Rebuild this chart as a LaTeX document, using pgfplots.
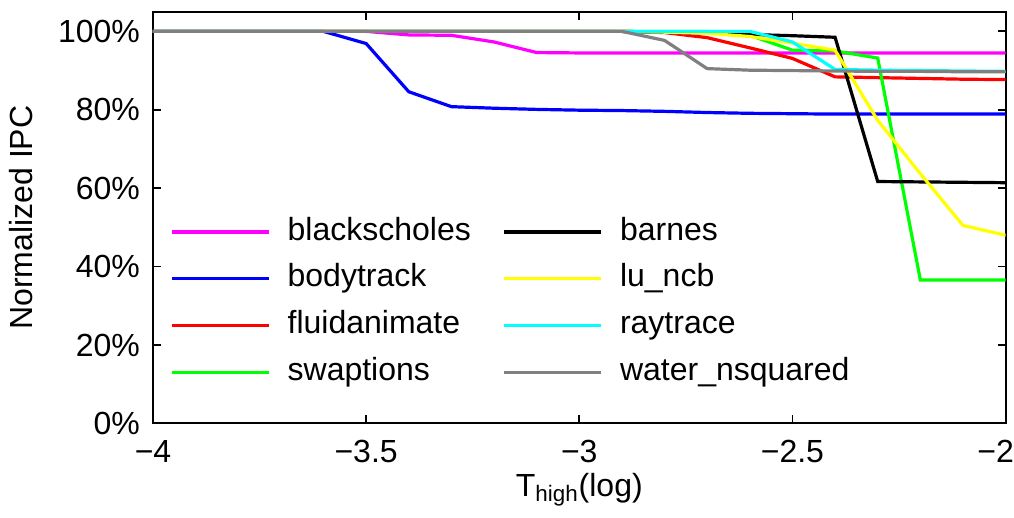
\documentclass[border=0pt]{standalone}
\usepackage{fontspec}
\setmainfont{Liberation Sans}
\usepackage{pgfplots}
\pgfplotsset{compat=1.18}
\usetikzlibrary{calc}
\definecolor{bsMagenta}{rgb}{1,0,1}
\definecolor{btBlue}{rgb}{0,0,1}
\definecolor{faRed}{rgb}{1,0,0}
\definecolor{swGreen}{rgb}{0,1,0}
\definecolor{luYellow}{rgb}{1,1,0}
\definecolor{rtCyan}{rgb}{0,1,1}
\definecolor{wnGray}{rgb}{0.5,0.5,0.5}
\begin{document}
\begin{tikzpicture}
  \begin{axis}[
    scale only axis,
    width=426.3pt, height=205.8pt,
    xmin=-4, xmax=-2,
    ymin=0, ymax=105,
    xtick={-4,-3.5,-3,-2.5,-2},
    xticklabels={−4,−3.5,−3,−2.5,\hspace*{-10pt}−2},
    ytick={0,20,40,60,80,100},
    yticklabels={0\%,20\%,40\%,60\%,80\%,100\%},
    tick align=inside,
    major tick length=4pt,
    axis line style={line width=0.9pt},
    tick style={line width=0.9pt, black},
    tick label style={font=\fontsize{16}{19}\selectfont},
    label style={font=\fontsize{16}{19}\selectfont},
    xticklabel shift=5pt,
    yticklabel shift=3pt,
    ylabel shift=6pt,
    xlabel shift=-2pt,
    xlabel={T\textsubscript{high}(log)},
    ylabel={Normalized IPC},
    every axis plot/.append style={line width=1.6pt, no markers},
    legend columns=4,
    transpose legend,
    legend cell align=left,
    legend image code/.code={\draw[#1] (0pt,0pt) -- (48.5pt,0pt);},
    legend style={
      draw=none, fill=none,
      at={(axis cs:-3.96,53.0)}, anchor=north west,
      inner sep=0pt,
      font=\fontsize{16}{19}\selectfont,
      nodes={text height=12pt, text depth=4pt, inner sep=0pt},
      row sep=7.4pt,
      column sep=8.5pt,
      /tikz/every even column/.append style={column sep=16pt},
    },
  ]
    \addplot[bsMagenta] coordinates {
      (-4,100) (-3.9,100) (-3.8,100) (-3.7,100) (-3.6,100) (-3.5,100)
      (-3.4,99.1) (-3.3,99.0) (-3.2,97.3) (-3.1,94.6) (-3.0,94.5)
      (-2.9,94.5) (-2.8,94.5) (-2.7,94.5) (-2.6,94.5) (-2.5,94.5)
      (-2.4,94.5) (-2.3,94.5) (-2.2,94.5) (-2.1,94.5) (-2.0,94.5)};
    \addlegendentry{blackscholes}
    \addplot[btBlue] coordinates {
      (-4,100) (-3.9,100) (-3.8,100) (-3.7,100) (-3.6,100) (-3.5,96.9)
      (-3.4,84.6) (-3.3,80.8) (-3.2,80.4) (-3.1,80.1) (-3.0,79.9)
      (-2.9,79.8) (-2.8,79.6) (-2.7,79.3) (-2.6,79.1) (-2.5,79.0)
      (-2.4,78.9) (-2.3,78.9) (-2.2,78.9) (-2.1,78.9) (-2.0,78.9)};
    \addlegendentry{bodytrack}
    \addplot[faRed] coordinates {
      (-4,100) (-3.9,100) (-3.8,100) (-3.7,100) (-3.6,100) (-3.5,100)
      (-3.4,100) (-3.3,100) (-3.2,100) (-3.1,100) (-3.0,100)
      (-2.9,100) (-2.8,99.7) (-2.7,98.4) (-2.6,95.8) (-2.5,93.1)
      (-2.4,88.4) (-2.3,88.2) (-2.2,88.0) (-2.1,87.8) (-2.0,87.7)};
    \addlegendentry{fluidanimate}
    \addplot[swGreen] coordinates {
      (-4,100) (-3.9,100) (-3.8,100) (-3.7,100) (-3.6,100) (-3.5,100)
      (-3.4,100) (-3.3,100) (-3.2,100) (-3.1,100) (-3.0,100)
      (-2.9,100) (-2.8,100) (-2.7,100) (-2.6,99.0) (-2.5,95.2)
      (-2.4,95.0) (-2.3,93.2) (-2.2,36.6) (-2.1,36.6) (-2.0,36.6)};
    \addlegendentry{swaptions}
    \addplot[black] coordinates {
      (-4,100) (-3.9,100) (-3.8,100) (-3.7,100) (-3.6,100) (-3.5,100)
      (-3.4,100) (-3.3,100) (-3.2,100) (-3.1,100) (-3.0,100)
      (-2.9,100) (-2.8,99.8) (-2.7,99.6) (-2.6,99.2) (-2.5,98.9)
      (-2.4,98.5) (-2.3,61.7) (-2.2,61.6) (-2.1,61.5) (-2.0,61.4)};
    \addlegendentry{barnes}
    \addplot[luYellow] coordinates {
      (-4,100) (-3.9,100) (-3.8,100) (-3.7,100) (-3.6,100) (-3.5,100)
      (-3.4,100) (-3.3,100) (-3.2,100) (-3.1,100) (-3.0,100)
      (-2.9,100) (-2.8,99.8) (-2.7,99.5) (-2.6,98.7) (-2.5,97.0)
      (-2.4,95.2) (-2.3,77.3) (-2.2,63.7) (-2.1,50.5) (-2.0,48.0)};
    \addlegendentry{lu\_ncb}
    \addplot[rtCyan] coordinates {
      (-4,100) (-3.9,100) (-3.8,100) (-3.7,100) (-3.6,100) (-3.5,100)
      (-3.4,100) (-3.3,100) (-3.2,100) (-3.1,100) (-3.0,100)
      (-2.9,100) (-2.8,100) (-2.7,100) (-2.6,100) (-2.5,97.3)
      (-2.4,90.3) (-2.3,90.1) (-2.2,90.0) (-2.1,89.9) (-2.0,89.8)};
    \addlegendentry{raytrace}
    \addplot[wnGray] coordinates {
      (-4,100) (-3.9,100) (-3.8,100) (-3.7,100) (-3.6,100) (-3.5,100)
      (-3.4,100) (-3.3,100) (-3.2,100) (-3.1,100) (-3.0,100)
      (-2.9,100) (-2.8,97.7) (-2.7,90.5) (-2.6,90.1) (-2.5,90.0)
      (-2.4,89.9) (-2.3,89.8) (-2.2,89.8) (-2.1,89.7) (-2.0,89.7)};
    \addlegendentry{water\_nsquared}
  \end{axis}
  \pgfresetboundingbox
  \path ($(current axis.south west)+(-76.5pt,-46.9pt)$) rectangle
        ($(current axis.north east)+(4.2pt,5.9pt)$);
\end{tikzpicture}
\end{document}
